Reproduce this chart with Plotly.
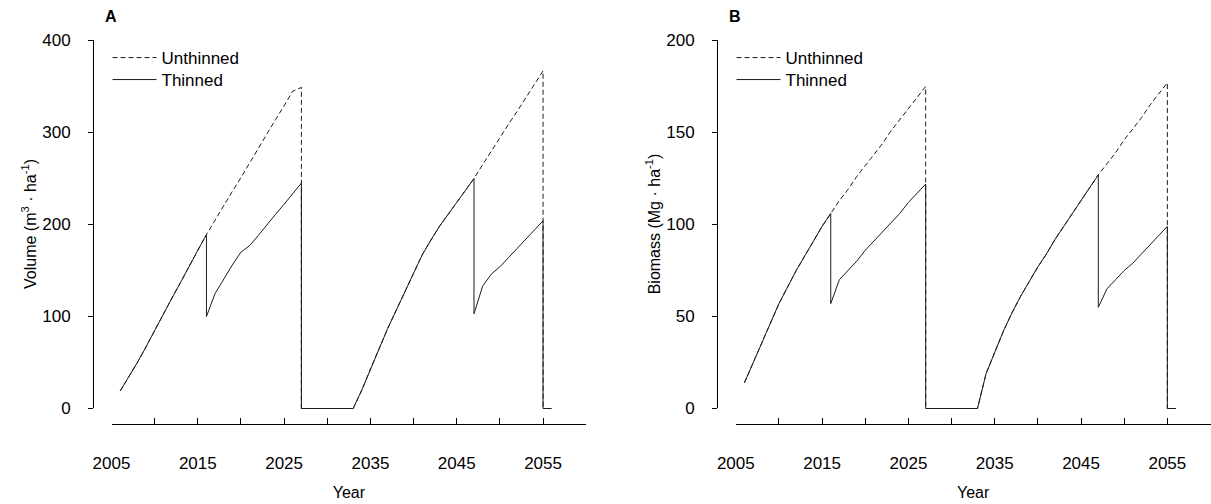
import plotly.graph_objects as go

# ---- data -------------------------------------------------------------
# Stand volume (m3/ha) and biomass (Mg/ha) over two rotations.
# Repeated years mark a thinning or a clear-cut in that year.
years_unthinned = ([y for y in range(2006, 2028)] + [2027, 2033]
                   + [y for y in range(2034, 2056)] + [2055, 2056])
years_thinned = ([y for y in range(2006, 2017)] + [2016]
                 + [y for y in range(2017, 2028)] + [2027, 2033]
                 + [y for y in range(2034, 2048)] + [2047]
                 + [y for y in range(2048, 2056)] + [2055, 2056])

volume_unthinned = [19, 34, 50, 67, 85, 102, 120, 137, 155, 172, 189,
                    205, 220, 236, 251, 267, 283, 298, 314, 329, 345, 349,
                    0, 0,
                    20, 43, 66, 87, 107, 127, 148, 167, 183, 198, 211, 224, 237, 250,
                    265, 280, 294, 309, 323, 338, 352, 367,
                    0, 0]
volume_thinned = [19, 34, 50, 67, 85, 102, 120, 137, 155, 172, 189,
                  100,
                  125, 141, 156, 170, 177, 188, 200, 211, 222, 234, 245,
                  0, 0,
                  20, 43, 66, 87, 107, 127, 148, 167, 183, 198, 211, 224, 237, 250,
                  103,
                  133, 146, 154, 164, 174, 184, 194, 204,
                  0, 0]

biomass_unthinned = [14, 25, 36, 47, 57, 66, 75, 83, 91, 99, 106,
                     113, 119, 126, 132, 138, 144, 151, 157, 163, 169, 175,
                     0, 0,
                     19, 31, 42, 52, 61, 69, 77, 84, 92, 99, 106, 113, 120, 127,
                     133, 139, 146, 152, 158, 165, 171, 177,
                     0, 0]
biomass_thinned = [14, 25, 36, 47, 57, 66, 75, 83, 91, 99, 106,
                   57,
                   70, 75, 80, 86, 91, 96, 101, 106, 112, 117, 122,
                   0, 0,
                   19, 31, 42, 52, 61, 69, 77, 84, 92, 99, 106, 113, 120, 127,
                   55,
                   65, 70, 75, 79, 84, 89, 94, 99,
                   0, 0]

x_label_years = list(range(2005, 2056, 10))
x_minor_years = list(range(2010, 2061, 10))
volume_ticks = [0, 100, 200, 300, 400]
biomass_ticks = [0, 50, 100, 150, 200]

# ---- layout helpers ---------------------------------------------------
W, H = 1211, 504
FONT = "Liberation Sans, Arial, sans-serif"
INK = "#000000"
LINE = "#1c1c1c"


def fx(px):
    return px / W


def fy(px):
    return 1 - px / H


fig = go.Figure()

panels = [
    # (x axis, data y axis, visible y axis, legend for each series, unthinned, thinned)
    ("x", "y", "y3", ("legend", "legend3"), volume_unthinned, volume_thinned),
    ("x2", "y2", "y4", ("legend2", "legend4"), biomass_unthinned, biomass_thinned),
]

for xa, ya, yvis, legs, unth, thin in panels:
    fig.add_trace(go.Scatter(
        x=years_unthinned, y=unth, mode="lines", name="Unthinned",
        line=dict(color=LINE, width=1, dash="5px,3px"),
        xaxis=xa, yaxis=ya, legend=legs[0], hoverinfo="x+y"))
    fig.add_trace(go.Scatter(
        x=years_thinned, y=thin, mode="lines", name="Thinned",
        line=dict(color=LINE, width=1),
        xaxis=xa, yaxis=ya, legend=legs[1], hoverinfo="x+y"))
    # empty trace so the visible value axis gets drawn
    fig.add_trace(go.Scatter(x=[None], y=[None], mode="lines", showlegend=False,
                             hoverinfo="skip", xaxis=xa, yaxis=yvis))

# pixel geometry: value 0 at y=408, top value at y=40, x axis line at y=424
# (data axes shifted half a pixel so the zero line sits on a pixel row)
px_per_unit = 368 / 400
half = 0.5 / px_per_unit
y_bottom_data = -16 / px_per_unit
x_axis_common = dict(
    range=[2005, 2060], tickmode="array", tickvals=x_label_years,
    ticks="inside", ticklen=6, tickwidth=1, tickcolor=INK,
    minor=dict(tickmode="array", tickvals=x_minor_years, ticks="inside", ticklen=6,
               tickwidth=1, tickcolor=INK, showgrid=False),
    showline=True, linecolor=INK, linewidth=1, showgrid=False, zeroline=False,
    tickfont=dict(family=FONT, size=17, color=INK), ticklabelstandoff=24,
    title=dict(text="Year", font=dict(family=FONT, size=16, color=INK), standoff=14),
    automargin=False,
)
y_data_common = dict(visible=False, domain=[fy(424), fy(40)], showgrid=False,
                     zeroline=False, automargin=False)
y_vis_common = dict(
    domain=[fy(408), fy(40)], anchor="free", ticks="outside", ticklen=5, tickwidth=1,
    tickcolor=INK, showline=True, linecolor=INK, linewidth=1, showgrid=False, zeroline=False,
    tickfont=dict(family=FONT, size=17, color=INK), ticklabelstandoff=14, automargin=False,
)


def legend_at(px_x, px_y):
    return dict(x=fx(px_x), y=fy(px_y), xanchor="left", yanchor="top",
                bgcolor="rgba(0,0,0,0)", itemwidth=44,
                font=dict(family=FONT, size=17, color=INK))


fig.update_layout(
    width=W, height=H, margin=dict(l=0, r=0, t=0, b=0, autoexpand=False),
    paper_bgcolor="white", plot_bgcolor="rgba(0,0,0,0)", showlegend=True,
    xaxis=dict(domain=[fx(111.5), fx(586.2)], anchor="y", **x_axis_common),
    xaxis2=dict(domain=[fx(735.8), fx(1210.5)], anchor="y2", **x_axis_common),
    yaxis=dict(range=[y_bottom_data + half, 400 + half], **y_data_common),
    yaxis2=dict(range=[(y_bottom_data + half) / 2, 200 + half / 2], **y_data_common),
    yaxis3=dict(range=[0, 400], position=fx(93), tickvals=volume_ticks,
                title=dict(text="Volume (m<sup>3</sup> · ha<sup>-1</sup>)",
                           font=dict(family=FONT, size=16, color=INK), standoff=0),
                **y_vis_common),
    yaxis4=dict(range=[0, 200], position=fx(717), tickvals=biomass_ticks,
                title=dict(text="Biomass (Mg · ha<sup>-1</sup>)",
                           font=dict(family=FONT, size=16, color=INK), standoff=0),
                **y_vis_common),
    legend=legend_at(107.5, 40),
    legend3=legend_at(107.5, 62),
    legend2=legend_at(731.5, 40),
    legend4=legend_at(731.5, 62),
    annotations=[
        dict(text="<b>A</b>", x=fx(111), y=fy(17), xref="paper", yref="paper",
             xanchor="center", yanchor="middle", showarrow=False,
             font=dict(family=FONT, size=16, color=INK)),
        dict(text="<b>B</b>", x=fx(735), y=fy(17), xref="paper", yref="paper",
             xanchor="center", yanchor="middle", showarrow=False,
             font=dict(family=FONT, size=16, color=INK)),
    ],
)

fig.write_html("out.html")
